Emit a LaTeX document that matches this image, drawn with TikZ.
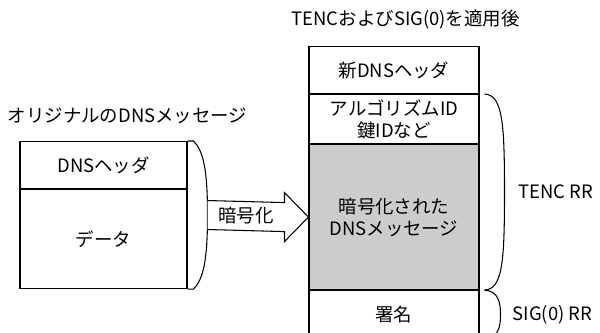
\documentclass[tikz,border=0pt]{standalone}
\usepackage{fontspec}
\setmainfont{Noto Sans CJK JP}
\usetikzlibrary{calc,positioning}

\begin{document}
\begin{tikzpicture}[x=0.02cm,y=-0.02cm,
    every node/.style={font=\fontsize{10.5}{12.5}\selectfont},
    cell/.style={draw, line width=0.6pt, inner sep=0pt, align=center},
    leftcell/.style={cell, minimum width=3.34cm},
    rightcell/.style={cell, minimum width=3.4cm},
    bracket/.style={line width=0.6pt},
    blockarrow/.style={draw, line width=0.6pt, fill=white}]

    \useasboundingbox (0,0) rectangle (600,333);

    % Nachricht vorher
    \node[leftcell, minimum height=0.94cm, anchor=north] (hdr) at (103.5,141) {DNSヘッダ};
    \node[leftcell, minimum height=1.98cm, below=0pt of hdr] (data) {データ};
    \node[anchor=west] (origttl) at ($(hdr.north west)+(-18,-25)$) {オリジナルのDNSメッセージ};

    % Nachricht nachher
    \node[rightcell, minimum height=0.94cm, anchor=north] (newhdr) at (394,46) {新DNSヘッダ};
    \node[rightcell, minimum height=0.98cm, below=0pt of newhdr] (algo) {アルゴリズムID\\鍵IDなど};
    \node[rightcell, minimum height=2.9cm, fill=gray!40, below=0pt of algo] (cipher) {暗号化された\\DNSメッセージ};
    \node[rightcell, minimum height=0.96cm, below=0pt of cipher] (sig) {署名};
    \node[anchor=west] (newttl) at ($(newhdr.north west)+(-23,-26)$) {TENCおよびSIG(0)を適用後};

    % Klammer links
    \coordinate (bulge) at ($(hdr.north east)!0.5!(data.south east)+(20,0)$);
    \draw[bracket] (hdr.north east) -- ++(6,0)
        .. controls +(10,10) and ($(bulge)+(0,-45)$) .. (bulge)
        .. controls ($(bulge)+(0,45)$) and ($(data.south east)+(16,-10)$) .. ($(data.south east)+(6,0)$)
        -- (data.south east);

    % Pfeil
    \coordinate (tip) at (cipher.west);
    \draw[blockarrow] ($(bulge)+(0,-14.5)$) -- ($(tip)+(-24,-14.5)$) -- ($(tip)+(-24,-24.5)$)
        -- (tip) -- ($(tip)+(-24,24.5)$) -- ($(tip)+(-24,14.5)$) -- ($(bulge)+(0,14.5)$);
    \node (enc) at ($(bulge)!0.38!(tip)$) {暗号化};

    % Klammern rechts
    \coordinate (tencA) at ($(algo.north east)+(5,0)$);
    \coordinate (tencB) at ($(cipher.south east)+(5,0)$);
    \coordinate (tencM) at ($(tencA)!0.5!(tencB)+(20,0)$);
    \draw[bracket] (tencA) .. controls +(18,1) and ($(tencM)+(0,-70)$) .. (tencM)
        .. controls ($(tencM)+(0,70)$) and ($(tencB)+(18,-1)$) .. (tencB);
    \node[anchor=west] (tenc) at ($(tencM)+(8,0)$) {TENC RR};

    \coordinate (sigA) at ($(sig.north east)+(5,0)$);
    \coordinate (sigB) at ($(sig.south east)+(5,0)$);
    \coordinate (sigM) at ($(sigA)!0.5!(sigB)+(16,0)$);
    \draw[bracket] (sigA) .. controls +(14,1) and ($(sigM)+(0,-12)$) .. (sigM)
        .. controls ($(sigM)+(0,12)$) and ($(sigB)+(14,-1)$) .. (sigB);
    \node[anchor=west] (sigrr) at ($(sigM)+(6,0)$) {SIG(0) RR};

\end{tikzpicture}
\end{document}
